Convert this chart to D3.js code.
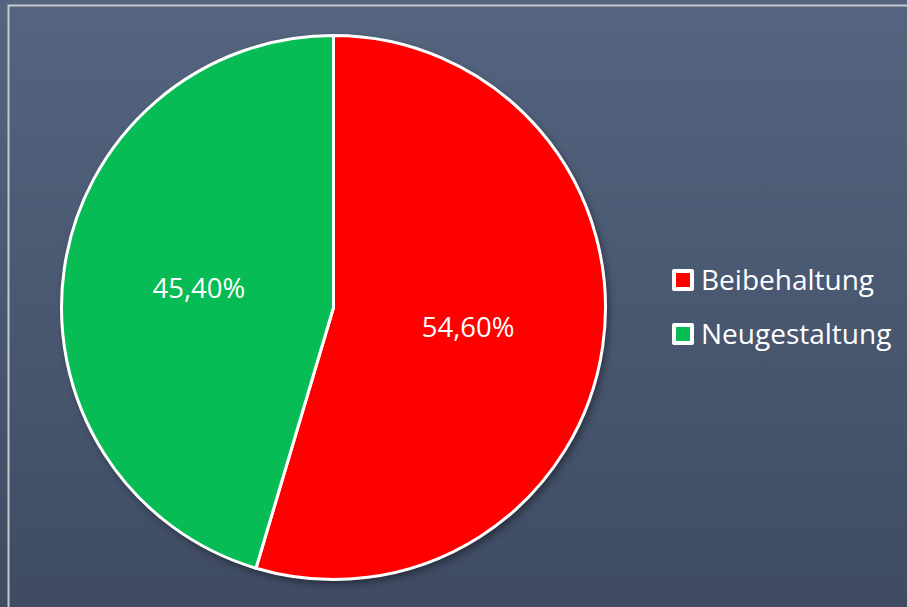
<!DOCTYPE html>
<html><head><meta charset="utf-8">
<script src="https://cdn.jsdelivr.net/npm/d3@7"></script>
<style>html,body{margin:0;padding:0;overflow:hidden;background:#4a5871}</style>
</head><body>
<script>
const categories = ["Beibehaltung", "Neugestaltung"];
const values = [54.6, 45.4];
const labels = ["54,60%", "45,40%"];
const colors = ["#ff0000", "#07bb55"];

const W = 907, H = 607;
const svg = d3.select("body").append("svg").attr("width", W).attr("height", H);
const defs = svg.append("defs");
const g1 = defs.append("linearGradient").attr("id","bg").attr("x1",0).attr("y1",0).attr("x2",0).attr("y2",1);
g1.append("stop").attr("offset","0%").attr("stop-color","#55657f");
g1.append("stop").attr("offset","100%").attr("stop-color","#3e4b63");
const f = defs.append("filter").attr("id","sh").attr("x","-10%").attr("y","-10%").attr("width","130%").attr("height","130%");
f.append("feDropShadow").attr("dx",3).attr("dy",4).attr("stdDeviation",4).attr("flood-color","#000").attr("flood-opacity",0.45);

svg.append("rect").attr("width",W).attr("height",H).attr("fill","url(#bg)");
svg.append("rect").attr("x",8.5).attr("y",5.5).attr("width",W+20).attr("height",H+20)
  .attr("fill","none").attr("stroke","#c4c8cf").attr("stroke-width",2);

const cx = 333.5, cy = 307.5, r = 272;
const pie = d3.pie().sort(null).value(d => d)(values);
const arc = d3.arc().innerRadius(0).outerRadius(r);
const lab = d3.arc().innerRadius(r*0.5).outerRadius(r*0.5);
const g = svg.append("g").attr("transform",`translate(${cx},${cy})`);
g.append("circle").attr("r",r).attr("fill","#fff").attr("filter","url(#sh)");
g.selectAll("path.s").data(pie).join("path").attr("class","s")
  .attr("d",arc).attr("fill",(d,i)=>colors[i]).attr("stroke","#fff").attr("stroke-width",3).attr("stroke-linejoin","round");
g.selectAll("text.l").data(pie).join("text").attr("class","l")
  .attr("transform",d=>`translate(${lab.centroid(d)})`)
  .attr("text-anchor","middle").attr("dy","0.36em")
  .attr("font-family","'Open Sans', sans-serif").attr("font-size",27.5)
  .attr("fill","#fff").text((d,i)=>labels[i]);

const leg = svg.append("g");
const ly = [280, 334];
categories.forEach((c,i)=>{
  leg.append("rect").attr("x",672).attr("y",ly[i]-11).attr("width",22).attr("height",22).attr("rx",2).attr("fill","#fff");
  leg.append("rect").attr("x",676).attr("y",ly[i]-7).attr("width",14).attr("height",14).attr("fill",colors[i]);
  leg.append("text").attr("x",701).attr("y",ly[i]).attr("dy","0.36em")
    .attr("font-family","'Open Sans', sans-serif").attr("font-size",28).attr("fill","#fff").text(c);
});
</script>
</body></html>
